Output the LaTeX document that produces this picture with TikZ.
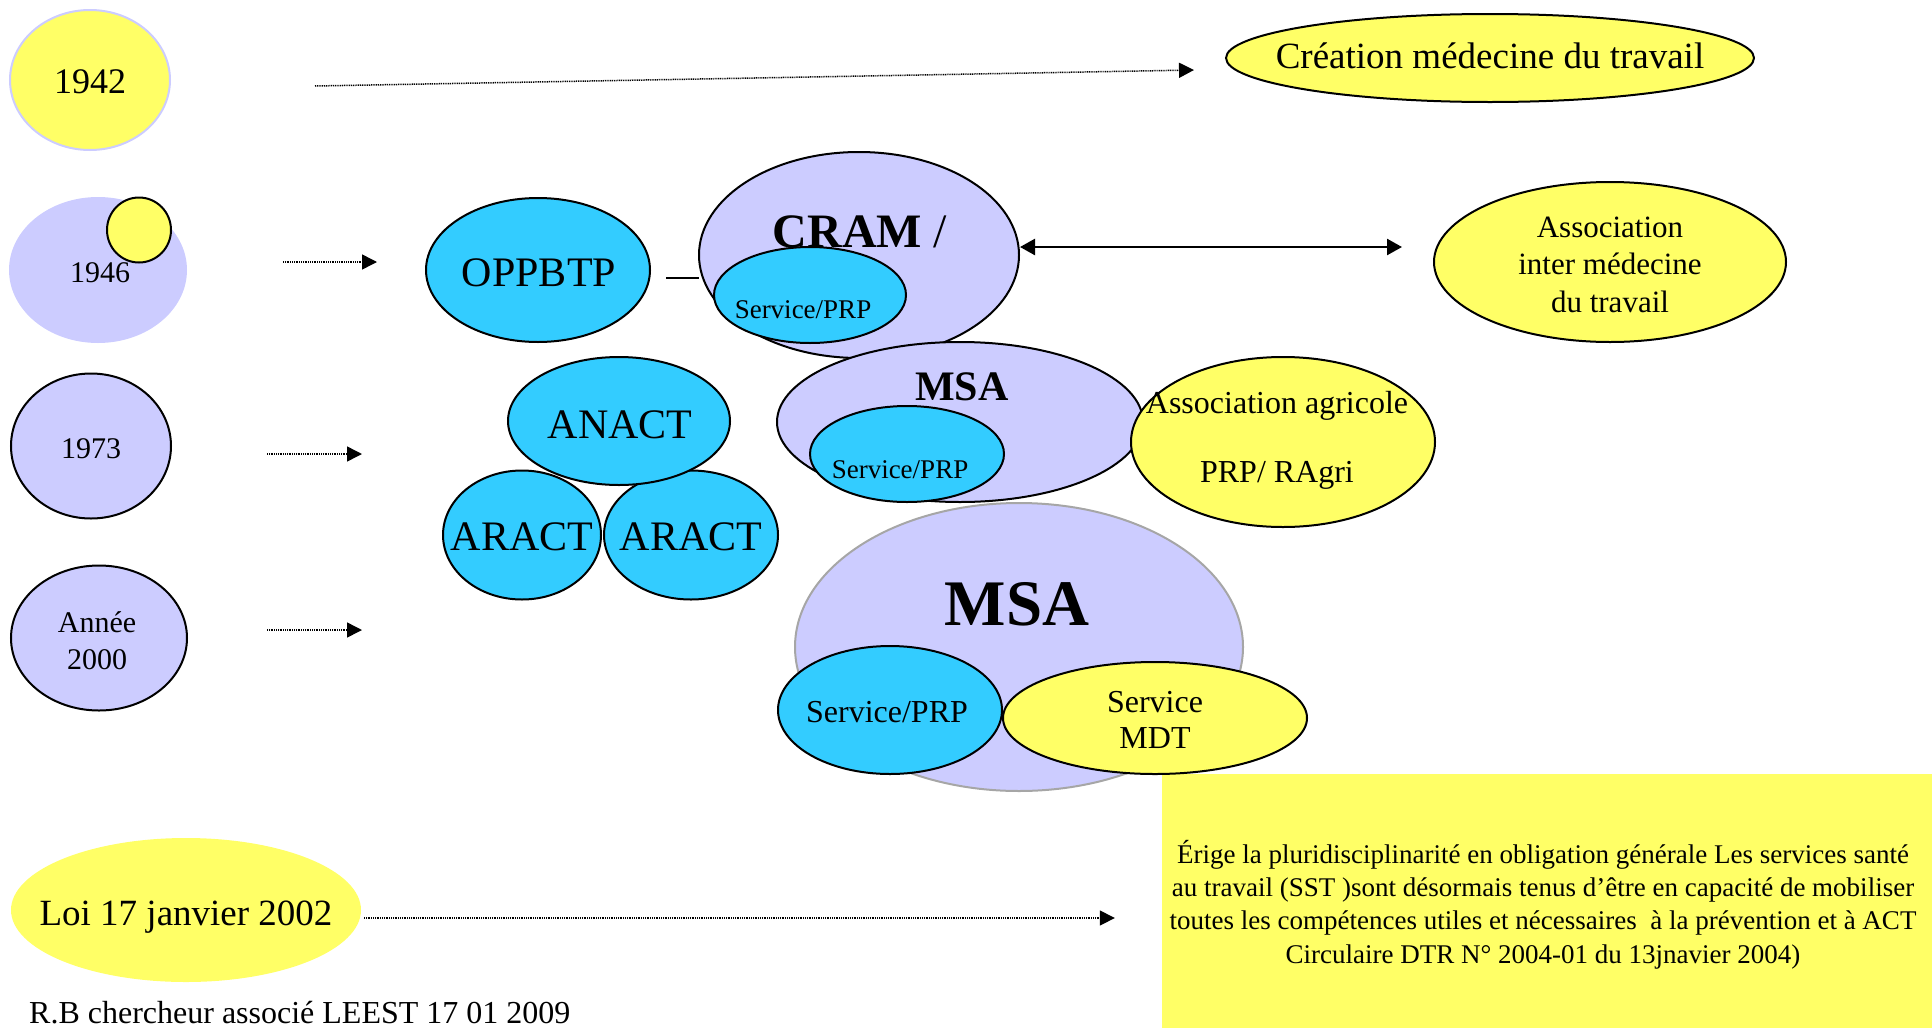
\documentclass[tikz,border=0pt]{standalone}
\usepackage{fontspec}
\setmainfont{Liberation Serif}
\usepackage{tikz}
\usetikzlibrary{shapes.geometric, arrows.meta}
\definecolor{jaune}{HTML}{FFFF66}
\definecolor{lilas}{HTML}{CCCCFF}
\definecolor{bleu}{HTML}{33CCFF}
\colorlet{bordgris}{black!35}
\newcommand\trait{2pt}
\tikzset{bulle/.style={ellipse, draw=black, line width=\trait, inner sep=0pt}}
\tikzset{bjaune/.style={bulle, fill=jaune}}
\tikzset{blilas/.style={bulle, fill=lilas}}
\tikzset{bbleu/.style={bulle, fill=bleu}}
\tikzset{note/.style={rectangle, fill=jaune, inner sep=0pt}}
\tikzset{taille/.style 2 args={minimum width=#1pt, minimum height=#2pt}}
\tikzset{lbl/.style={inner sep=0pt, anchor=base, align=center, font=\fontsize{#1}{#1}\selectfont}}
\tikzset{pointille/.style={line width=1.5pt, dash pattern=on 1pt off 0.8pt, -{Triangle[length=15pt,width=15pt]}}}
\tikzset{fleche2/.style={line width=2.5pt, {Triangle[length=15pt,width=16pt]}-{Triangle[length=15pt,width=16pt]}}}

\begin{document}
\begin{tikzpicture}[x=1pt, y=-1pt]
\useasboundingbox (0,0) rectangle (1932,1028);
\node[note, taille={770}{254}] (note) at (1547,901) {};
% colonne des dates
\node[bjaune, draw=lilas, taille={160}{140}] (y42) at (90,80) {};
\node[blilas, draw=none, taille={178}{146}] (y46) at (98,270) {};
\node[bjaune, taille={64}{65}] (y46b) at (139,230) {};
\node[blilas, taille={160}{145}] (y73) at (91,446) {};
\node[blilas, taille={176}{145}] (y00) at (99,638) {};
\node[bjaune, draw=none, taille={350}{144}] (loi) at (186,910) {};
% organismes
\node[bjaune, taille={528}{88}] (crea) at (1490,58) {};
\node[bbleu, taille={224}{144}] (oppbtp) at (538,270) {};
\node[blilas, taille={320}{206}] (cram) at (859,255) {};
\node[bbleu, taille={192}{96}] (cramsrv) at (810,295) {};
\node[blilas, taille={366}{160}] (msa) at (960,422) {};
\node[bbleu, taille={194}{96}] (msasrv) at (907,454) {};
\node[bjaune, taille={304}{170}] (agri) at (1283,442) {};
\node[bjaune, taille={352}{160}] (inter) at (1610,262) {};
\node[bbleu, taille={158}{129}] (aract1) at (522,535) {};
\node[bbleu, taille={174}{129}] (aract2) at (691,535) {};
\node[bbleu, taille={222}{128}] (anact) at (619,421) {};
\node[blilas, draw=bordgris, taille={448}{288}] (msagd) at (1019,647) {};
\node[bbleu, taille={224}{128}] (gdsrv) at (890,710) {};
\node[bjaune, taille={304}{112}] (mdt) at (1155,718) {};
% textes (base = derniere ligne)
\node[lbl=36] (t42) at (90,93) {1942};
\foreach \an/\x/\y in {1946/100/282, 1973/91/458} {
	\node[lbl=30] (t\an) at (\x,\y) {\an};
}
\node[lbl=30] (t00) at (97,669) {Année\\[7pt]2000};
\node[lbl=37] (tloi) at (186,925) {Loi 17 janvier 2002};
\node[lbl=37] (tcrea) at (1490,68) {Création médecine du travail};
\node[lbl=42] (toppbtp) at (539,286) {OPPBTP};
\node[lbl=48] (tcram) at (860,247) {\textbf{CRAM} /};
\node[lbl=27] (tcramsrv) at (803,318) {Service/PRP};
\node[lbl=42] (tmsa) at (962,400) {\textbf{MSA}};
\node[lbl=27] (tmsasrv) at (900,478) {Service/PRP};
\node[lbl=32] (tagri) at (1277,482) {Association agricole\\[37pt]PRP/ RAgri};
\node[lbl=31] (tinter) at (1610,312) {Association\\[6.5pt]inter médecine\\[6.5pt]du travail};
\node[lbl=42] (tanact) at (620,438) {ANACT};
\node[lbl=42] (taract1) at (522,550) {ARACT};
\node[lbl=42] (taract2) at (691,550) {ARACT};
\node[lbl=65] (tmsagd) at (1017,625) {\textbf{MSA}};
\node[lbl=32] (tgdsrv) at (887,722) {Service/PRP};
\node[lbl=32] (tmdt) at (1155,748) {Service\\[4pt]MDT};
\node[lbl=27] (tnote) at (1543,963) {Érige la pluridisciplinarité en obligation générale Les services santé\\[6.3pt]au travail (SST )sont désormais tenus d’être en capacité de mobiliser\\[6.3pt]toutes les compétences utiles et nécessaires~ à la prévention et à ACT\\[6.3pt]Circulaire DTR N° 2004-01 du 13jnavier 2004)};
\node[lbl=32, anchor=base west] (tauteur) at (29,1023) {R.B chercheur associé LEEST 17 01 2009};
% liaisons
\coordinate (f73) at (362,454);
\coordinate (f00) at (362,630);
\draw[pointille] ([shift={(144,6)}]y42.east) -- ([shift={(-31,12)}]crea.west);
\draw[pointille] ([shift={(95,-8)}]y46.east) -- ([shift={(-48,-8)}]oppbtp.west);
\draw[pointille] ([shift={(95,8)}]y73.east) -- (f73);
\draw[pointille] ([shift={(79,-8)}]y00.east) -- (f00);
\draw[pointille] ([shift={(2,8)}]loi.east) -- ([shift={(-47,17)}]note.west);
\draw[line width=\trait] ([shift={(15,8)}]oppbtp.east) -- ([shift={(1,23)}]cram.west);
\draw[fleche2] ([shift={(0,-8)}]cram.east) -- ([shift={(-31,-15)}]inter.west);
\end{tikzpicture}
\end{document}
